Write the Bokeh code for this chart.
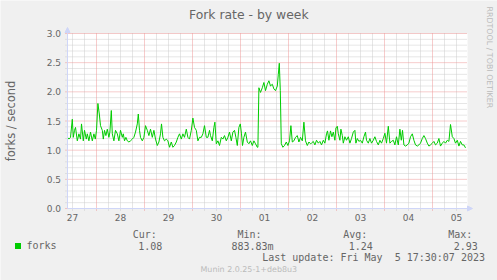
from math import pi
from bokeh.plotting import figure
from bokeh.models import Label, BoxAnnotation, Arrow, NormalHead, Legend, LegendItem
from bokeh.core.properties import value
from bokeh.embed import file_html
from bokeh.resources import INLINE

# ---- data (hours since Apr 27 00:00, forks per second) ----
hours = [9.5, 10.2, 11.0, 11.9, 12.4, 13.0, 13.5, 14.4, 15.2, 16.0, 16.5, 17.4, 18.0, 18.9, 19.4, 20.2,
         21.0, 21.9, 22.7, 23.4, 24.0, 24.7, 25.4, 26.0, 26.9, 27.4, 28.0, 28.7, 29.4, 30.2, 30.7, 31.4,
         31.9, 32.7, 33.5, 34.4, 35.2, 36.0, 36.9, 37.4, 38.0, 38.7, 39.4, 40.2, 41.0, 41.9, 42.7, 43.5,
         44.4, 44.9, 45.5, 46.0, 46.9, 47.7, 48.5, 49.4, 50.2, 51.0, 51.9, 52.7, 53.5, 54.4, 55.2, 56.0,
         56.5, 57.2, 58.0, 58.9, 59.7, 60.5, 61.4, 62.2, 63.0, 63.9, 64.7, 65.5, 66.4, 67.2, 68.0, 68.9,
         69.7, 70.5, 71.4, 72.2, 73.0, 73.9, 74.7, 75.5, 76.4, 77.2, 78.0, 78.9, 79.7, 80.5, 81.0,
         81.9, 82.7, 83.2, 83.9, 84.7, 85.5, 86.4, 87.2, 88.0, 88.9, 89.7, 90.5, 91.4, 92.2, 93.0, 93.7,
         94.4, 95.2, 95.9, 96.5, 97.0, 97.7, 98.5, 99.4, 100.2, 101.0, 101.9, 102.7, 103.5, 104.4, 104.7,
         105.2, 106.0, 106.9, 107.7, 108.5, 109.4, 110.2, 111.0, 111.9, 112.7, 113.5, 114.4, 114.9, 115.4,
         115.9, 116.4, 117.2, 118.0, 118.9, 119.7, 120.5, 121.2, 121.9, 122.7, 123.5, 124.4, 125.2, 126.0,
         126.9, 127.7, 128.5, 129.4, 130.2, 131.0,
         131.5, 132.4, 133.2, 134.0, 134.9, 135.7, 136.5, 137.4, 138.2, 139.0, 139.5, 140.2, 141.0, 141.7,
         142.4, 143.2, 143.7, 144.4, 144.9, 145.7, 146.2, 146.9, 147.4, 148.2, 149.0, 149.9, 150.7, 151.5,
         152.4, 153.2, 153.7, 154.4, 155.2, 156.0, 156.9, 157.7, 158.5, 159.0, 159.9, 160.7, 161.5, 162.4,
         163.2, 164.0, 164.9, 165.7, 166.5, 167.4, 168.2, 169.0,
         169.9, 170.7, 171.5, 172.4, 173.2, 174.0, 174.9, 175.7, 176.4, 177.0, 177.7, 178.5, 179.4, 180.2,
         181.0, 181.9, 182.7, 183.5, 184.4, 185.2, 186.0, 186.9, 187.7, 188.5, 189.4, 190.2, 191.0, 191.9,
         192.7, 193.5, 194.4, 195.2, 196.0, 196.9, 197.7, 198.5, 199.4, 200.2, 201.0, 201.9, 202.7, 203.5,
         204.4, 205.2, 206.0, 206.9, 207.7, 208.5]
forks = [1.22, 1.19, 1.22, 1.53, 1.22, 1.34, 1.39, 1.16, 1.28, 1.19, 1.45, 1.16, 1.34, 1.19, 1.28, 1.16,
         1.31, 1.16, 1.28, 1.19, 1.34, 1.80, 1.62, 1.42, 1.34, 1.19, 1.34, 1.25, 1.36, 1.22, 1.31, 1.68,
         1.28, 1.16, 1.34, 1.28, 1.16, 1.34, 1.22, 1.28, 1.16, 1.22, 1.16, 1.14, 1.16, 1.19, 1.22, 1.31,
         1.45, 1.62, 1.34, 1.22, 1.16, 1.22, 1.42, 1.34, 1.25, 1.36, 1.22, 1.34, 1.19, 1.08, 1.14, 1.28,
         1.45, 1.22, 1.16, 1.19, 1.16, 1.05, 1.14, 1.05, 1.08, 1.14, 1.22, 1.28, 1.19, 1.28, 1.22, 1.36,
         1.22, 1.19, 1.34, 1.55, 1.39, 1.34, 1.16, 1.22, 1.22, 1.28, 1.42, 1.22, 1.22, 1.34, 1.25,
         1.16, 1.39, 1.48, 1.11, 1.16, 1.08, 1.22, 1.19, 1.25, 1.16, 1.22, 1.31, 1.16, 1.31, 1.34, 1.22,
         1.08, 1.39, 1.45, 1.28, 1.08, 1.22, 1.31, 1.14, 1.11, 1.16, 1.08, 1.16, 1.11, 1.05, 1.05,
         2.07, 1.99, 2.07, 2.16, 2.02, 2.13, 2.19, 2.10, 2.13, 2.05, 2.02, 2.10, 2.30, 2.49,
         2.02, 1.11, 1.05, 1.08, 1.14, 1.08, 1.16, 1.42, 1.14, 1.16, 1.22, 1.25, 1.14, 1.22,
         1.16, 1.48, 1.16, 1.08, 1.14, 1.11,
         1.12, 1.15, 1.09, 1.17, 1.12, 1.15, 1.09, 1.17, 1.12, 1.28, 1.33, 1.17, 1.33, 1.23,
         1.31, 1.17, 1.38, 1.41, 1.28, 1.17, 1.36, 1.25, 1.12, 1.23, 1.17, 1.23, 1.12, 1.20,
         1.31, 1.34, 1.12, 1.20, 1.15, 1.17, 1.12, 1.23, 1.31, 1.17, 1.12, 1.20, 1.12, 1.17,
         1.23, 1.15, 1.09, 1.17, 1.12, 1.20, 1.29, 1.12,
         1.41, 1.12, 1.15, 1.17, 1.09, 1.23, 1.09, 1.36, 1.17, 1.34, 1.09, 1.07, 1.09, 1.12,
         1.23, 1.28, 1.17, 1.09, 1.07, 1.09, 1.12, 1.20, 1.25, 1.20, 1.12, 1.07, 1.09, 1.12,
         1.15, 1.09, 1.12, 1.20, 1.07, 1.12, 1.15, 1.12, 1.17, 1.15, 1.44, 1.23, 1.20, 1.12,
         1.17, 1.07, 1.15, 1.09, 1.09, 1.04]
day_labels = ["27", "28", "29", "30", "01", "02", "03", "04", "05"]
y_tick_labels = ["0.0", "0.5", "1.0", "1.5", "2.0", "2.5", "3.0"]
stat_names = ["Cur:", "Min:", "Avg:", "Max:"]
stat_values = ["1.08", "883.83m", "1.24", "2.93"]
series_name = "forks"
title_text = "Fork rate - by week"
y_label = "forks / second"
last_update = "Last update: Fri May \u00a05 17:30:07 2023"
version_text = "Munin 2.0.25-1+deb8u3"
watermark = "RRDTOOL / TOBI OETIKER"

# ---- layout (pixel geometry of the graph area) ----
W, H = 497, 280
FL, FR, FT, FB = 67, 467, 33, 208
X0, X1 = 9.5, 209.5
Y0, Y1 = 0.0, 3.0
BACK = "#F0F0F0"
FONT = "#666666"
AXIS = "#CFD6F8"
GRID = "#CDCDCD"
MGRID = "#EE9999"
GREEN = "#00CC00"
LIGHT = "#BBBBBB"


def dx(px):
    return X0 + (px - FL) * (X1 - X0) / (FR - FL)


def dy(py):
    return Y0 + (FB - py) * (Y1 - Y0) / (FB - FT)


p = figure(width=W, height=H, x_range=(dx(0), dx(W)), y_range=(dy(H), dy(0)),
           x_axis_location=None, y_axis_location=None,
           output_backend="svg", toolbar_location=None, min_border=0,
           background_fill_color=BACK, border_fill_color=BACK, outline_line_color=None)
for g in p.grid:
    g.visible = False

# white canvas
p.add_layout(BoxAnnotation(left=X0, right=X1, bottom=Y0, top=Y1, fill_color="#FFFFFF", fill_alpha=1,
                           line_color=None, level="underlay"))

# grid lines (6-hour minor / daily major, 0.1 minor / 0.5 major)
label_hours = [12 + 24 * i for i in range(len(day_labels))]
major_x = [24 * i for i in range(1, 9)]
minor_x = [h for h in range(12, 210, 6) if h % 24 != 0]
major_y = [0.5 * i for i in range(len(y_tick_labels))]
minor_y = [0.1 * i for i in range(1, 31) if i % 5 != 0]

p.segment(x0=minor_x, x1=minor_x, y0=[dy(FB + 2)] * len(minor_x), y1=[Y1] * len(minor_x),
          line_color=GRID, line_width=1, line_dash="1 1")
p.segment(x0=[dx(FL - 2)] * len(minor_y), x1=[X1] * len(minor_y), y0=minor_y, y1=minor_y,
          line_color=GRID, line_width=1, line_dash="1 1")
p.segment(x0=major_x, x1=major_x, y0=[dy(FB + 2)] * len(major_x), y1=[Y1] * len(major_x),
          line_color=MGRID, line_width=1, line_dash="1 1")
p.segment(x0=[dx(FL - 2)] * len(major_y), x1=[X1] * len(major_y), y0=major_y, y1=major_y,
          line_color=MGRID, line_width=1, line_dash="1 1")

# data line
p.line(hours, forks, line_color=GREEN, line_width=1)

# axes with arrows
p.add_layout(Arrow(x_start=X0, y_start=Y0, x_end=X0, y_end=dy(27), line_color=AXIS, line_width=1,
                   end=NormalHead(size=5, fill_color=AXIS, line_color=AXIS)))
p.add_layout(Arrow(x_start=X0, y_start=Y0, x_end=dx(472), y_end=Y0, line_color=AXIS, line_width=1,
                   end=NormalHead(size=5, fill_color=AXIS, line_color=AXIS)))

# tick labels
p.text(x=[dx(60.5)] * len(major_y), y=major_y, text=y_tick_labels, text_align="right",
       text_baseline="middle", text_font=value("DejaVu Sans"), text_font_size="9px", text_color=FONT)
p.text(x=label_hours, y=[dy(217.4)] * len(label_hours), text=day_labels, text_align="center",
       text_baseline="middle", text_font=value("DejaVu Sans"), text_font_size="9px", text_color=FONT)

# legend swatch (markers of size 0 on the plot; only the legend key is visible)
sq = p.scatter(hours, forks, marker="square", size=0, fill_color=GREEN, line_color=None)
legend = Legend(items=[LegendItem(label=series_name, renderers=[sq])],
                location=(9.5, H - 252.5), glyph_width=15, glyph_height=15,
                label_height=15, label_width=10, label_standoff=2, padding=0, margin=0, spacing=0,
                border_line_color=None, background_fill_alpha=0,
                label_text_font="DejaVu Sans Mono", label_text_font_size="10px",
                label_text_color=FONT)
p.add_layout(legend)


def txt(text, px, py, size, color=FONT, font="DejaVu Sans Mono", align="left", angle=0):
    p.add_layout(Label(x=dx(px), y=dy(py), text=text, text_font=font, text_font_size=f"{size}px",
                       text_color=color, text_align=align, text_baseline="middle", angle=angle))


txt(title_text, 248.3, 13.7, 12.4, font="DejaVu Sans", align="center")
txt(y_label, 10.5, 120.5, 11.5, font="DejaVu Sans", align="center", angle=pi / 2)
txt(watermark, 488.8, 6, 7.9, color=LIGHT, font="DejaVu Sans", angle=-pi / 2)

name_x = [132.3, 237.0, 342.7, 447.7]
value_x = [137.7, 231.0, 348.3, 453.3]
for name, nx in zip(stat_names, name_x):
    txt(name, nx, 234.0, 10)
for val, vx in zip(stat_values, value_x):
    txt(val, vx, 245.8, 10)
txt(last_update, 261.7, 256.5, 10)
txt(version_text, 200, 268.7, 7.95, color=LIGHT, font="DejaVu Sans")

open("out.html", "w").write(file_html(p, INLINE))
